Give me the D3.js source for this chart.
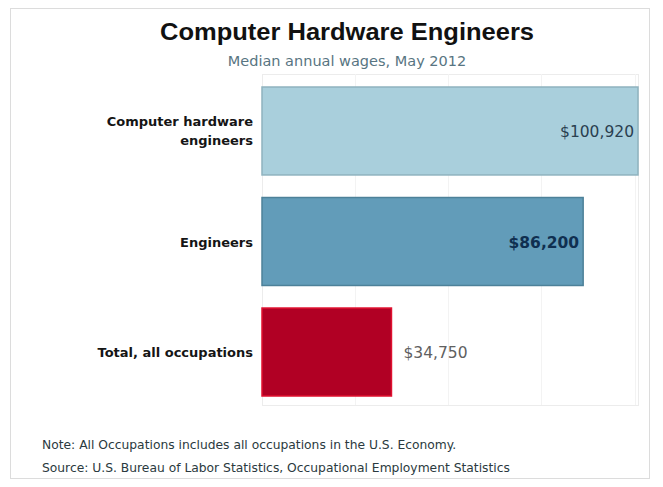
<!DOCTYPE html>
<html>
<head>
<meta charset="utf-8">
<script src="https://cdn.jsdelivr.net/npm/d3@7"></script>
<style>
  body { margin: 0; background: #fff; }
  svg { display: block; }
</style>
</head>
<body>
<script>
// chart data
const categories = [["Computer hardware", "engineers"], ["Engineers"], ["Total, all occupations"]];
const wages = [100920, 86200, 34750];
const wageLabels = ["$100,920", "$86,200", "$34,750"];
const gridTicks = [25000, 50000, 75000, 100000];

const width = 663, height = 487;
const svg = d3.select("body").append("svg")
    .attr("width", width)
    .attr("height", height);

// outer panel
svg.append("rect")
    .attr("x", 10.5).attr("y", 8.5)
    .attr("width", 639).attr("height", 470)
    .attr("fill", "#fff")
    .attr("stroke", "#dcdcdc");

const plot = {left: 262, right: 638, top: 74, bottom: 405};

const x = d3.scaleLinear()
    .domain([0, 100920])
    .range([plot.left, plot.right]);

const y = d3.scaleBand()
    .domain(d3.range(wages.length))
    .range([87, 396])
    .paddingInner(0.204);

// plot box
svg.append("rect")
    .attr("x", plot.left + 0.5).attr("y", plot.top + 0.5)
    .attr("width", plot.right - plot.left).attr("height", plot.bottom - plot.top)
    .attr("fill", "none")
    .attr("stroke", "#ececec");

// faint gridlines
svg.append("g")
  .selectAll("line")
  .data(gridTicks)
  .join("line")
    .attr("x1", d => Math.round(x(d)) + 0.5)
    .attr("x2", d => Math.round(x(d)) + 0.5)
    .attr("y1", plot.top)
    .attr("y2", plot.bottom)
    .attr("stroke", "#f3f3f3");

const fills = ["#a9cfdc", "#629cb9", "#b10024"];
const strokes = ["#8fb3bf", "#4d8199", "#e0102f"];

svg.append("g")
  .selectAll("rect")
  .data(wages)
  .join("rect")
    .attr("x", x(0))
    .attr("y", (d, i) => y(i))
    .attr("width", d => x(d) - x(0))
    .attr("height", y.bandwidth())
    .attr("fill", (d, i) => fills[i])
    .attr("stroke", (d, i) => strokes[i])
    .attr("stroke-width", 1.5);

// category labels
const cat = svg.append("g")
    .attr("font-family", "DejaVu Sans, Verdana, sans-serif")
    .attr("font-weight", "bold")
    .attr("font-size", 13)
    .attr("fill", "#151515")
    .attr("text-anchor", "end");

categories.forEach((lines, i) => {
  const cy = y(i) + y.bandwidth() / 2;
  const t = cat.append("text")
      .attr("x", plot.left - 9)
      .attr("y", cy - (lines.length - 1) * 9.5 + 5);
  lines.forEach((l, j) => {
    t.append("tspan").attr("x", plot.left - 9).attr("dy", j ? 19 : 0).text(l);
  });
});

// value labels
const labelFill = ["#2a4050", "#0f2f50", "#606060"];
svg.append("g")
    .attr("font-family", "DejaVu Sans, Verdana, sans-serif")
    .attr("font-size", 15.5)
  .selectAll("text")
  .data(wages)
  .join("text")
    .attr("x", (d, i) => i < 2 ? x(d) - 4 : x(d) + 12)
    .attr("y", (d, i) => y(i) + y.bandwidth() / 2 + 6)
    .attr("text-anchor", (d, i) => i < 2 ? "end" : "start")
    .attr("fill", (d, i) => labelFill[i])
    .attr("font-weight", (d, i) => i === 1 ? "bold" : "normal")
    .text((d, i) => wageLabels[i]);

// titles
svg.append("text")
    .attr("x", 347).attr("y", 40)
    .attr("text-anchor", "middle")
    .attr("font-family", "Liberation Sans, Arial, sans-serif")
    .attr("font-weight", "bold")
    .attr("font-size", 23)
    .attr("textLength", 374)
    .attr("lengthAdjust", "spacingAndGlyphs")
    .attr("fill", "#111")
    .text("Computer Hardware Engineers");

svg.append("text")
    .attr("x", 347).attr("y", 66)
    .attr("text-anchor", "middle")
    .attr("font-family", "DejaVu Sans, Verdana, sans-serif")
    .attr("font-size", 14.5)
    .attr("fill", "#587582")
    .text("Median annual wages, May 2012");

// footnotes
const foot = svg.append("g")
    .attr("font-family", "DejaVu Sans, Verdana, sans-serif")
    .attr("font-size", 12.3)
    .attr("fill", "#2b3a40");

foot.append("text").attr("x", 42).attr("y", 449)
    .text("Note: All Occupations includes all occupations in the U.S. Economy.");
foot.append("text").attr("x", 42).attr("y", 472)
    .text("Source: U.S. Bureau of Labor Statistics, Occupational Employment Statistics");
</script>
</body>
</html>
